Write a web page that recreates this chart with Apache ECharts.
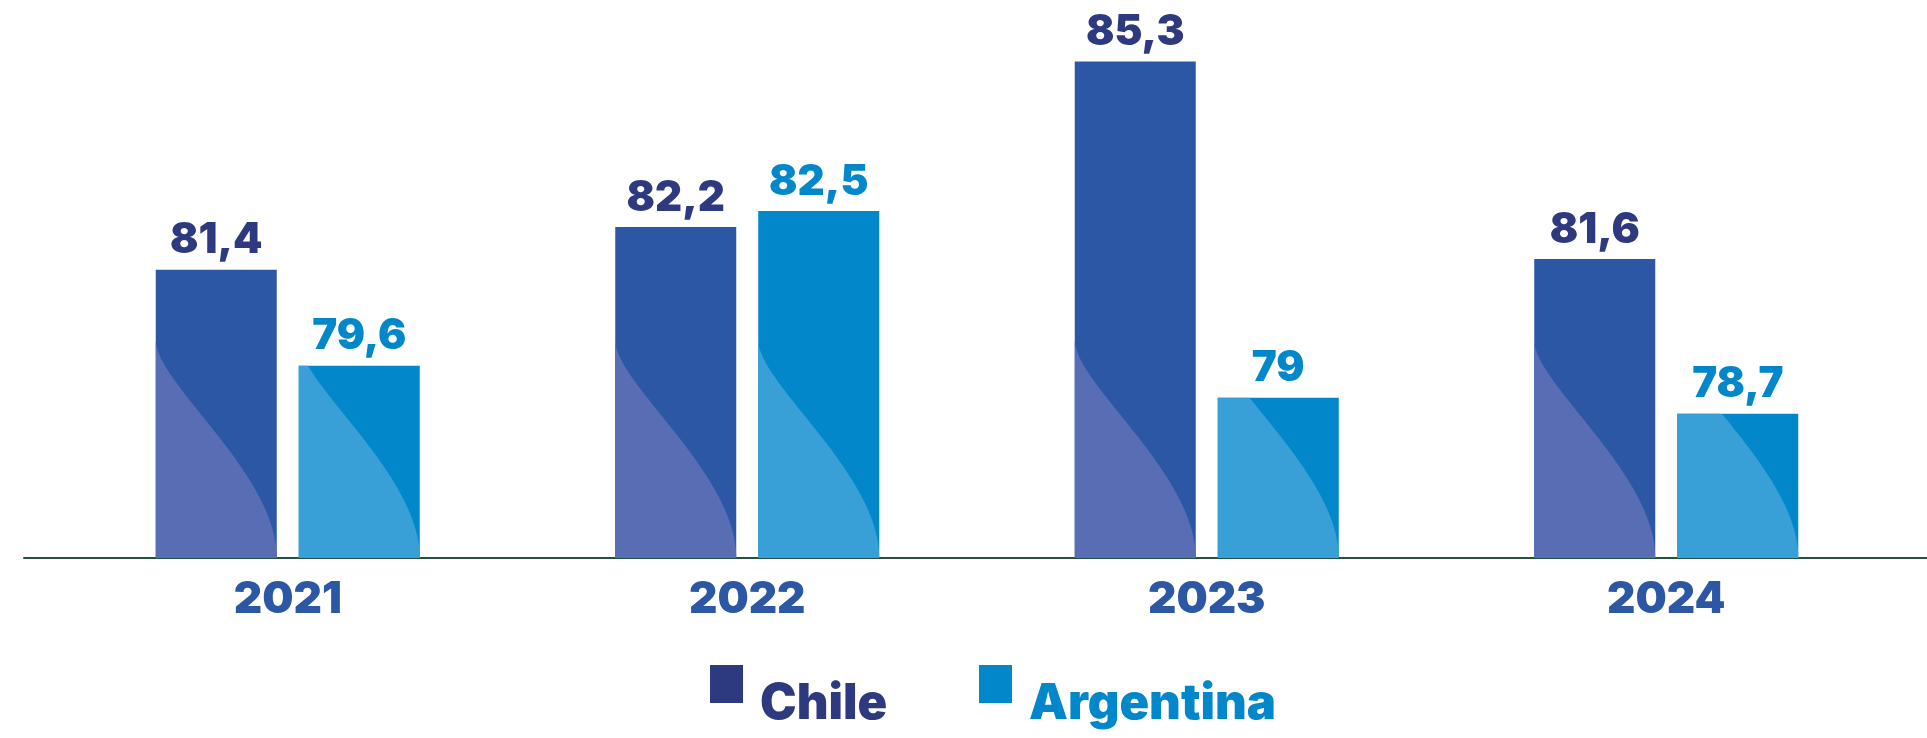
<!DOCTYPE html>
<html>
<head>
<meta charset="utf-8">
<script src="https://cdn.jsdelivr.net/npm/echarts@6/dist/echarts.min.js"></script>
<style>
  html, body { margin: 0; padding: 0; background: #fff; }
  #chart { width: 1927px; height: 738px; }
</style>
</head>
<body>
<div id="chart"></div>
<script>
// datos
const years = ['2021', '2022', '2023', '2024'];
const chileValues = [81.4, 82.2, 85.3, 81.6];
const argentinaValues = [79.6, 82.5, 79, 78.7];

// estilo
const FONT = "Inter, 'DejaVu Sans', sans-serif";
const Y_MIN = 76;
const Y_MAX = 86;
const BAR_W = 121;
const BAR_GAP = 22;
const WAVE_H = 218; // altura de la onda clara, en px

// cuadro de leyenda arriba, texto desplazado hacia abajo
const LEGEND_ICON = 'path://M0,0H33V38H0Z M44.9,78.9H45V79H44.9Z';

const chart = echarts.init(document.getElementById('chart'));

// onda clara en la parte baja de cada barra
const waveSeries = (name, values, side, color) => ({
  name: name,
  type: 'custom',
  silent: true,
  z: 3,
  encode: { x: 0, y: 1 },
  data: values.map((v, i) => [i, v]),
  renderItem: (params, api) => {
    const idx = api.value(0);
    const pTop = api.coord([idx, api.value(1)]);
    const base = api.coord([idx, Y_MIN])[1];
    const top = pTop[1];
    const left = pTop[0] + side * (BAR_W + BAR_GAP) / 2 - BAR_W / 2;
    const c1 = 0.8, c2 = 0.39;
    const pts = [[left, base]];
    for (let i = 0; i <= 48; i++) {
      const t = i / 48;
      const bx = 3 * t * t - 2 * t * t * t;
      const by = Math.pow(1 - t, 3) + 3 * Math.pow(1 - t, 2) * t * c1 + 3 * (1 - t) * t * t * c2;
      pts.push([left + bx * BAR_W, Math.max(top, base - by * WAVE_H)]);
    }
    return { type: 'polygon', shape: { points: pts }, style: { fill: color } };
  }
});

const barLabel = (color) => ({
  show: true,
  position: 'top',
  distance: 8,
  formatter: p => String(p.value).replace('.', ','),
  color: color,
  fontSize: 42,
  fontWeight: 900,
  fontFamily: FONT
});

const legendItem = (name, color, left) => ({
  data: [{ name: name, itemStyle: { color: color }, textStyle: { color: color } }],
  left: left,
  top: 665,
  padding: 0,
  icon: LEGEND_ICON,
  itemWidth: 45,
  itemHeight: 79,
  symbolKeepAspect: false,
  selectedMode: false,
  textStyle: { fontSize: 49, fontWeight: 900, fontFamily: FONT }
});

const option = {
  backgroundColor: '#fff',
  animation: false,
  grid: [
    { left: 58, right: 31, top: 24, bottom: 180 },
    { left: 24, right: 0, top: 24, bottom: 180 }
  ],
  legend: [
    legendItem('Chile', '#2e3a7f', 710),
    legendItem('Argentina', '#0288ca', 979)
  ],
  xAxis: [
    {
      type: 'category',
      data: years,
      gridIndex: 0,
      axisLine: { show: false },
      axisTick: { show: false },
      axisLabel: {
        margin: 20,
        color: '#2c57a5',
        fontSize: 44,
        fontWeight: 900,
        fontFamily: FONT
      }
    },
    {
      type: 'value',
      gridIndex: 1,
      min: 0,
      max: 1,
      position: 'bottom',
      axisLine: { show: true, onZero: false, lineStyle: { color: '#23523f', width: 2 } },
      axisTick: { show: false },
      axisLabel: { show: false },
      splitLine: { show: false }
    }
  ],
  yAxis: [
    { type: 'value', gridIndex: 0, min: Y_MIN, max: Y_MAX, show: false },
    { type: 'value', gridIndex: 1, min: 0, max: 1, show: false }
  ],
  series: [
    {
      name: 'Chile',
      type: 'bar',
      data: chileValues,
      barWidth: BAR_W,
      barGap: (BAR_GAP / BAR_W * 100) + '%',
      itemStyle: { color: '#2c57a5' },
      label: barLabel('#2e3a7f')
    },
    {
      name: 'Argentina',
      type: 'bar',
      data: argentinaValues,
      barWidth: BAR_W,
      barGap: (BAR_GAP / BAR_W * 100) + '%',
      itemStyle: { color: '#0288ca' },
      label: barLabel('#0288ca')
    },
    waveSeries('ChileOnda', chileValues, -1, '#586db3'),
    waveSeries('ArgentinaOnda', argentinaValues, 1, '#38a0d6')
  ]
};

chart.setOption(option);
window.addEventListener('resize', () => chart.resize());
</script>
</body>
</html>
